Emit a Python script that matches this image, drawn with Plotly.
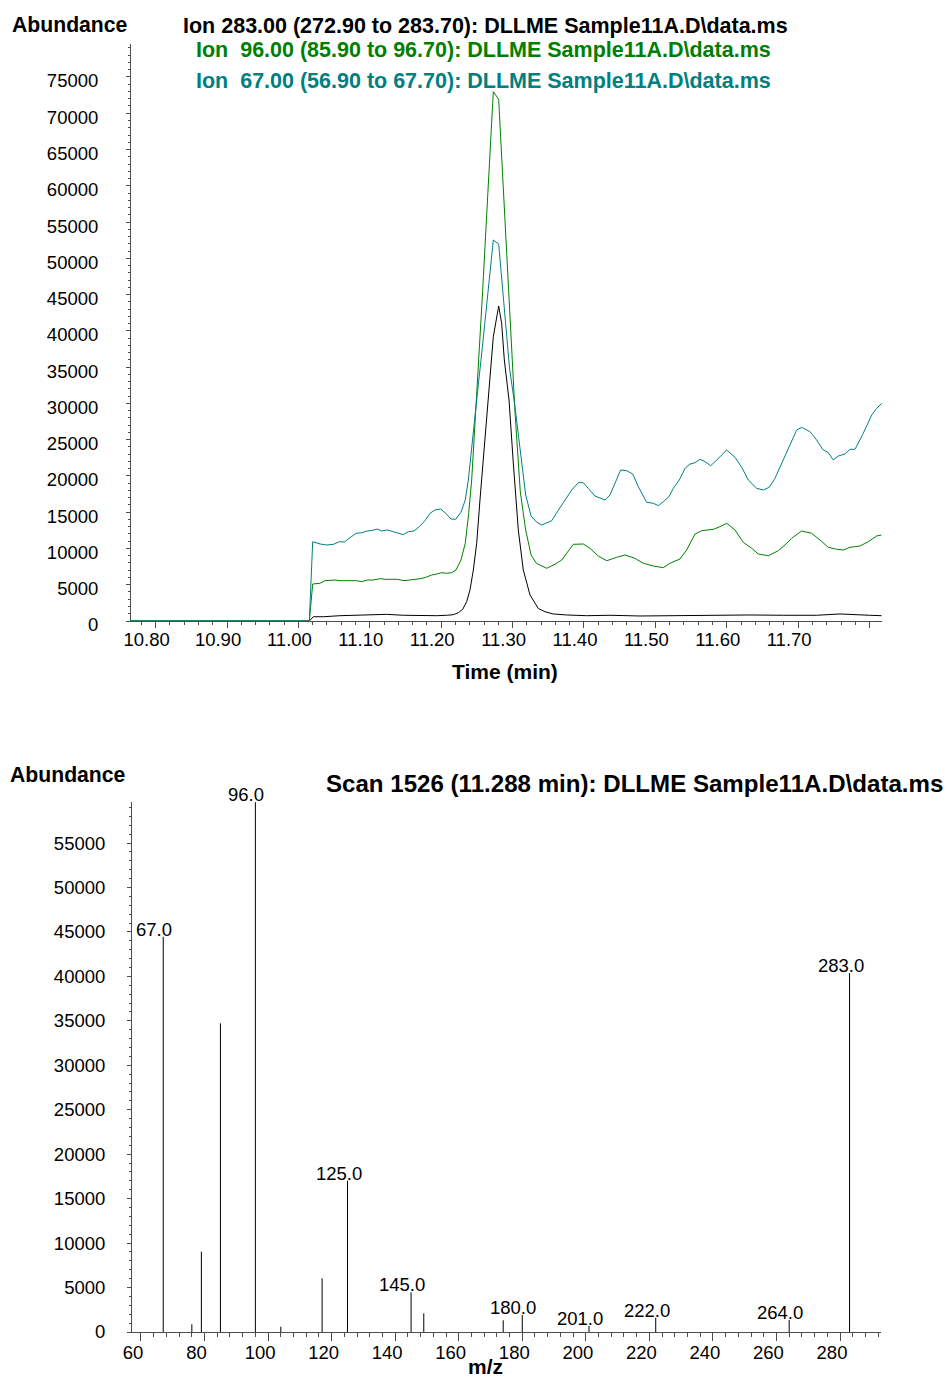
import plotly.graph_objects as go

# ---- Extracted ion chromatograms (time in min, abundance) ----
t_ion283 = [10.7655, 11.0153, 11.0209, 11.0349, 11.0583, 11.0816, 11.1049, 11.1237, 11.1469, 11.1703,
            11.1937, 11.2077, 11.2169, 11.2239, 11.2301, 11.2357, 11.2403, 11.2450, 11.2497, 11.2543,
            11.2613, 11.2669, 11.2730, 11.2805, 11.2847, 11.2884, 11.2950, 11.3010, 11.3080, 11.3150,
            11.3244, 11.3360, 11.3454, 11.3570, 11.3758, 11.4038, 11.4364, 11.4784, 11.5158, 11.5625,
            11.6091, 11.6325, 11.6791, 11.7259, 11.7586, 11.7819, 11.8000, 11.8170]
a_ion283 = [0, 0, 590, 590, 730, 830, 920, 920, 790, 730,
            730, 790, 870, 1140, 1610, 2660, 4270, 7030, 10710, 16680,
            25370, 31850, 39190, 43430, 41040, 35980, 30470, 21780, 12550, 7030,
            3580, 1720, 1280, 970, 830, 730, 790, 690, 730, 690,
            730, 830, 790, 790, 970, 920, 790, 730]

t_ion96 = [10.7655, 11.0153, 11.0200, 11.0302, 11.0372, 11.0442, 11.0513, 11.0583, 11.0653, 11.0723,
           11.0807, 11.0886, 11.0965, 11.1049, 11.1143, 11.1213, 11.1307, 11.1385, 11.1479, 11.1563,
           11.1633, 11.1703, 11.1783, 11.1867, 11.1937, 11.2007, 11.2077, 11.2147, 11.2207, 11.2277,
           11.2337, 11.2385, 11.2427, 11.2503, 11.2578, 11.2654, 11.2730, 11.2805, 11.2881, 11.2957,
           11.3032, 11.3108, 11.3183, 11.3259, 11.3335, 11.3478, 11.3594, 11.3688, 11.3758, 11.3850,
           11.3990, 11.4084, 11.4200, 11.4318, 11.4458, 11.4574, 11.4714, 11.4831, 11.4971, 11.5111,
           11.5205, 11.5345, 11.5438, 11.5555, 11.5649, 11.5811, 11.5905, 11.5999, 11.6115, 11.6231,
           11.6349, 11.6441, 11.6581, 11.6721, 11.6815, 11.6909, 11.7049, 11.7189, 11.7305, 11.7422,
           11.7539, 11.7632, 11.7726, 11.7866, 11.7982, 11.8100, 11.8170]
a_ion96 = [0, 0, 5100, 5200, 5560, 5650, 5650, 5560, 5560, 5650,
           5560, 5420, 5650, 5650, 5830, 5750, 5750, 5750, 5560, 5650,
           5790, 5830, 6020, 6340, 6480, 6660, 6580, 6660, 7030, 8410,
           10710, 14850, 19440, 31570, 45080, 59070, 72970, 71920, 57070, 42190,
           29090, 17780, 12550, 9100, 7930, 7270, 7820, 8410, 9330, 10570,
           10620, 10020, 8960, 8310, 8780, 9100, 8640, 7960, 7580, 7350,
           7960, 8550, 9790, 11990, 12450, 12640, 13000, 13470, 12550, 10850,
           10020, 9240, 9000, 9690, 10480, 11400, 12410, 12090, 11170, 10160,
           9890, 9790, 10160, 10340, 10930, 11720, 11860]

t_ion67 = [10.7655, 11.0153, 11.0200, 11.0302, 11.0396, 11.0489, 11.0573, 11.0643, 11.0723, 11.0807,
           11.0886, 11.0965, 11.1040, 11.1105, 11.1167, 11.1245, 11.1329, 11.1409, 11.1469, 11.1539,
           11.1619, 11.1693, 11.1773, 11.1843, 11.1913, 11.1993, 11.2063, 11.2137, 11.2203, 11.2277,
           11.2337, 11.2380, 11.2427, 11.2503, 11.2578, 11.2654, 11.2730, 11.2805, 11.2881, 11.2957,
           11.3032, 11.3108, 11.3183, 11.3259, 11.3335, 11.3408, 11.3548, 11.3618, 11.3710, 11.3828,
           11.3920, 11.3990, 11.4060, 11.4154, 11.4294, 11.4364, 11.4434, 11.4514, 11.4598, 11.4682,
           11.4761, 11.4878, 11.4971, 11.5041, 11.5111, 11.5191, 11.5251, 11.5335, 11.5415, 11.5485,
           11.5555, 11.5625, 11.5695, 11.5775, 11.5859, 11.5999, 11.6115, 11.6209, 11.6301, 11.6419,
           11.6511, 11.6595, 11.6675, 11.6791, 11.6895, 11.6979, 11.7049, 11.7165, 11.7259, 11.7343,
           11.7422, 11.7492, 11.7562, 11.7656, 11.7726, 11.7796, 11.7912, 11.8030, 11.8100, 11.8170]
a_ion67 = [0, 0, 10930, 10620, 10480, 10570, 10930, 10890, 11480, 12090,
           12170, 12410, 12500, 12680, 12410, 12550, 12310, 12090, 11900, 12310,
           12410, 13000, 13830, 14850, 15300, 15440, 14850, 14060, 14020, 14990,
           16680, 19440, 24130, 31020, 37910, 45220, 52520, 51970, 43010, 34880,
           29640, 23160, 17370, 14480, 13650, 13240, 13830, 14930, 16230, 18060,
           19070, 19070, 18290, 17230, 16680, 17370, 18980, 20820, 20720, 20270,
           18520, 16360, 16230, 15900, 16450, 17140, 18290, 19440, 21050, 21640,
           21820, 22290, 21960, 21410, 22200, 23570, 22570, 21190, 19440, 18290,
           18060, 18430, 19670, 22200, 24360, 26330, 26700, 26100, 24950, 23670,
           23200, 22200, 22750, 23020, 23670, 23670, 25880, 28400, 29320, 30010]

# ---- Mass spectrum, scan 1526 ----
mz = [67, 76, 79, 85, 96, 104, 117, 125, 145, 149, 174, 180, 201, 222, 264, 283]
intensity = [44460, 870, 9030, 34720, 59600, 600, 6040, 17020, 4465, 2100, 1316, 1912, 675, 1608, 1350, 40380]
labelled_mz = [67, 96, 125, 145, 180, 201, 222, 264, 283]

time_ticks = [10.8, 10.9, 11.0, 11.1, 11.2, 11.3, 11.4, 11.5, 11.6, 11.7, 11.8]
time_ticktext = ["10.80", "10.90", "11.00", "11.10", "11.20", "11.30", "11.40", "11.50", "11.60", "11.70", ""]

header_black = "Ion 283.00 (272.90 to 283.70): DLLME Sample11A.D\\data.ms"
header_green = "Ion \u00a096.00 (85.90 to 96.70): DLLME Sample11A.D\\data.ms"
header_teal = "Ion \u00a067.00 (56.90 to 67.70): DLLME Sample11A.D\\data.ms"
spectrum_title = "Scan 1526 (11.288 min): DLLME Sample11A.D\\data.ms"

W, H = 947, 1378
FONT = "Liberation Sans, Arial, sans-serif"
AXIS_COLOR = "#4d4d4d"
GREEN = "#008000"
TEAL = "#008080"


def fx(px):
    return px / W


def fy(py):
    return 1 - py / H


fig = go.Figure()

fig.add_trace(go.Scatter(x=t_ion283, y=a_ion283, mode="lines", line=dict(color="black", width=1),
                         xaxis="x", yaxis="y", hoverinfo="skip"))
fig.add_trace(go.Scatter(x=t_ion96, y=a_ion96, mode="lines", line=dict(color=GREEN, width=1),
                         xaxis="x", yaxis="y", hoverinfo="skip"))
fig.add_trace(go.Scatter(x=t_ion67, y=a_ion67, mode="lines", line=dict(color=TEAL, width=1),
                         xaxis="x", yaxis="y", hoverinfo="skip"))

# spectrum sticks
sx, sy = [], []
for m, v in zip(mz, intensity):
    sx += [m, m, None]
    sy += [0, v, None]
fig.add_trace(go.Scatter(x=sx, y=sy, mode="lines", line=dict(color="black", width=1),
                         xaxis="x2", yaxis="y2", hoverinfo="skip"))

tickfont = dict(family=FONT, size=18.5, color="black")
common_axis = dict(showline=True, linecolor=AXIS_COLOR, linewidth=1, ticks="outside",
                   tickcolor=AXIS_COLOR, tickwidth=1, showgrid=False, zeroline=False,
                   tickfont=tickfont, fixedrange=True)

fig.update_layout(
    width=W, height=H,
    margin=dict(l=0, r=0, t=0, b=0, autoexpand=False),
    paper_bgcolor="white", plot_bgcolor="white",
    showlegend=False,
    xaxis=dict(domain=[fx(131), fx(881.7)], range=[10.7655, 11.817], anchor="y",
               tickvals=time_ticks, ticktext=time_ticktext, ticklen=6, ticklabelshift=-9,
               ticklabelstandoff=-4,
               minor=dict(dtick=0.02, tick0=10.78, ticks="outside", ticklen=3, tickcolor=AXIS_COLOR),
               **common_axis),
    yaxis=dict(domain=[fy(621), fy(44)], range=[0, 79545], anchor="x",
               tick0=0, dtick=5000, tickformat="d", ticklen=4, ticklabelstandoff=24, ticklabelshift=4,
               minor=dict(dtick=1000, ticks="outside", ticklen=2.5, tickcolor=AXIS_COLOR),
               **common_axis),
    xaxis2=dict(domain=[fx(132), fx(881)], range=[57.17, 292.9], anchor="y2",
                tick0=0, dtick=20, ticklen=8, ticklabelshift=-8, ticklabelstandoff=-4,
                minor=dict(dtick=4, ticks="outside", ticklen=4, tickcolor=AXIS_COLOR),
                **common_axis),
    yaxis2=dict(domain=[fy(1332), fy(802)], range=[0, 59620], anchor="x2",
                tick0=0, dtick=5000, tickformat="d", ticklen=4, ticklabelstandoff=18,
                minor=dict(dtick=1000, ticks="outside", ticklen=2.5, tickcolor=AXIS_COLOR),
                **common_axis),
)

annotations = []


def text_at(px, py, text, size, color="black", bold=True, xanchor="left"):
    annotations.append(dict(
        x=fx(px), y=fy(py), xref="paper", yref="paper", xanchor=xanchor, yanchor="middle",
        text=f"<b>{text}</b>" if bold else text, showarrow=False,
        font=dict(family=FONT, size=size, color=color)))


text_at(10, 24, "Abundance", 21.2)
text_at(181, 26, header_black, 21.5)
text_at(194, 50, header_green, 21.5, GREEN)
text_at(194, 81, header_teal, 21.5, TEAL)
text_at(505, 671, "Time (min)", 21, xanchor="center")
text_at(8, 774, "Abundance", 21.2)
text_at(324, 783, spectrum_title, 24.1)
text_at(485, 1366, "m/z", 21, xanchor="center")

# m/z labels on the main peaks
for m, v in zip(mz, intensity):
    if m in labelled_mz:
        annotations.append(dict(
            x=m, y=v, xref="x2", yref="y2", xanchor="center", yanchor="bottom",
            xshift=-9, yshift=-5, text=f"{m:.1f}", showarrow=False,
            font=dict(family=FONT, size=18.5, color="black")))

fig.update_layout(annotations=annotations)

fig.write_html("out.html")
